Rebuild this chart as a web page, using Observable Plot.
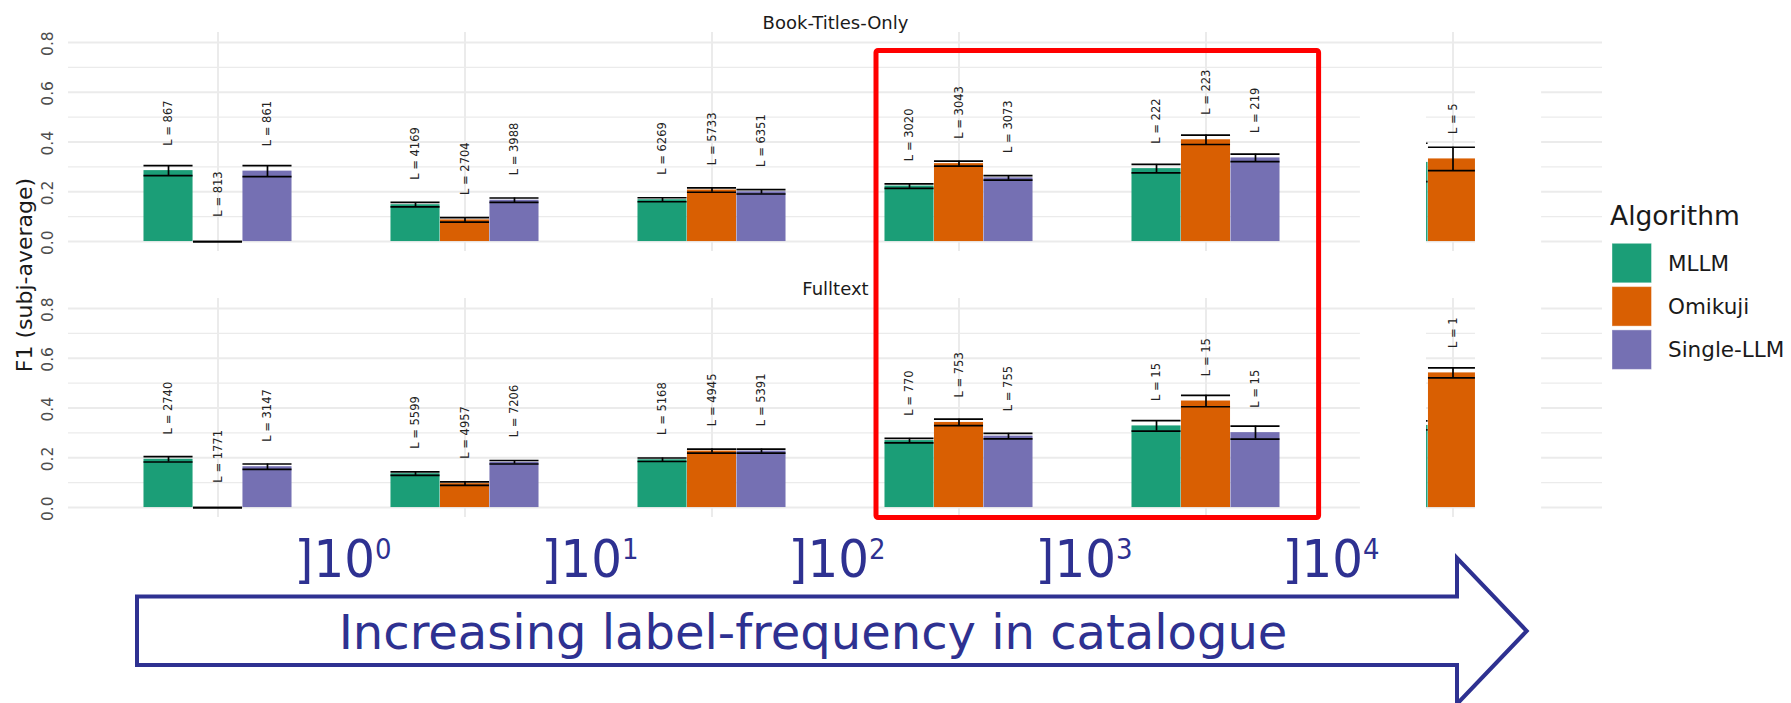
<!DOCTYPE html>
<html><head><meta charset="utf-8">
<script src="https://cdn.jsdelivr.net/npm/d3@7"></script>
<script src="https://cdn.jsdelivr.net/npm/@observablehq/plot@0.6"></script>
<style>
html,body{margin:0;padding:0;background:#fff;}
#wrap{position:relative;width:1791px;height:703px;overflow:hidden;font-family:"DejaVu Sans",sans-serif;}
#wrap svg{position:absolute;left:0;top:0;}
</style></head><body><div id="wrap"></div>
<script>
// ---------- data ----------
const panels = ["Book-Titles-Only", "Fulltext"];
const algorithms = ["MLLM", "Omikuji", "Single-LLM"];
const algoColors = ["#1B9E77", "#D95F02", "#7570B3"];
const groups = ["≤10^0", "]10^0,10^1]", "]10^1,10^2]", "]10^2,10^3]", "]10^3,10^4]", ">10^4"];
const boundaryExponents = ["0", "1", "2", "3", "4"];
const yMajorTicks = [0, 0.2, 0.4, 0.6, 0.8];
const yMinorTicks = [0.1, 0.3, 0.5, 0.7];
const yTitle = "F1 (subj-average)";
const legendTitle = "Algorithm";
const arrowText = "Increasing label-frequency in catalogue";

// Book-Titles-Only
const titlesMLLM = [0.285, 0.148, 0.168, 0.223, 0.293, 0.318];
const titlesMLLMErr = [0.020, 0.009, 0.008, 0.009, 0.017, 0.077];
const titlesMLLMCount = [867, 4169, 6269, 3020, 222, null];
const titlesOmikuji = [0, 0.087, 0.207, 0.313, 0.409, 0.332];
const titlesOmikujiErr = [0, 0.009, 0.009, 0.010, 0.019, 0.047];
const titlesOmikujiCount = [813, 2704, 5733, 3043, 223, 5];
const titlesSingle = [0.283, 0.166, 0.200, 0.256, 0.336, null];
const titlesSingleErr = [0.022, 0.009, 0.009, 0.009, 0.015, null];
const titlesSingleCount = [861, 3988, 6351, 3073, 219, null];
// Fulltext
const fullMLLM = [0.194, 0.136, 0.192, 0.269, 0.328, 0.330];
const fullMLLMErr = [0.011, 0.007, 0.007, 0.009, 0.021, 0.018];
const fullMLLMCount = [2740, 5599, 5168, 770, 15, null];
const fullOmikuji = [0, 0.096, 0.227, 0.342, 0.428, 0.541];
const fullOmikujiErr = [0, 0.007, 0.008, 0.013, 0.023, 0.020];
const fullOmikujiCount = [1771, 4957, 4945, 753, 15, 1];
const fullSingle = [0.164, 0.182, 0.227, 0.287, 0.301, null];
const fullSingleErr = [0.011, 0.007, 0.008, 0.011, 0.026, null];
const fullSingleCount = [3147, 7206, 5391, 755, 15, null];

// white cover patches over the last group (as in the source figure)
const coverTopMLLM = [0.55, 0.75];
const coverTopSingle = [0.65, 0.84];

// ---------- build tables ----------
const series = [
  [panels[0], "MLLM", titlesMLLM, titlesMLLMErr, titlesMLLMCount],
  [panels[0], "Omikuji", titlesOmikuji, titlesOmikujiErr, titlesOmikujiCount],
  [panels[0], "Single-LLM", titlesSingle, titlesSingleErr, titlesSingleCount],
  [panels[1], "MLLM", fullMLLM, fullMLLMErr, fullMLLMCount],
  [panels[1], "Omikuji", fullOmikuji, fullOmikujiErr, fullOmikujiCount],
  [panels[1], "Single-LLM", fullSingle, fullSingleErr, fullSingleCount]
];
const rows = series.flatMap(([panel, algo, m, e, n]) =>
  groups.map((group, i) => ({panel, algo, group, mean: m[i], err: e[i], n: n[i]}))
).filter(d => d.mean != null);

const lastGroup = groups[groups.length - 1];
const coverMLLM = panels.map((panel, i) => ({panel, group: lastGroup, top: coverTopMLLM[i]}));
const coverSingle = panels.map((panel, i) => ({panel, group: lastGroup, top: coverTopSingle[i]}));

// ---------- layout ----------
const W = 1791, H = 703;
const mL = 68, mR = 189, mT = 32, mB = 185;
const outerPad = 0.1;
const bw = (W - mL - mR) / (groups.length + 2 * outerPad);
const grid = "#ebebeb";
const ink = "#1a1a1a";

const algoMarks = algorithms.flatMap((a, ai) => {
  const k = ai - 1;
  const data = rows.filter(d => d.algo === a);
  const inL = (0.4 + 0.2 * k) * bw, inR = (0.4 - 0.2 * k) * bw;
  return [
    Plot.barY(data, {x: "group", y: "mean", fy: "panel", fill: "algo", insetLeft: inL, insetRight: inR}),
    Plot.ruleX(data, {x: "group", y1: d => d.mean - d.err, y2: d => d.mean + d.err, fy: "panel", dx: 0.2 * k * bw, stroke: "black", strokeWidth: 1.7}),
    Plot.tickY(data, {x: "group", y: d => d.mean - d.err, fy: "panel", insetLeft: inL, insetRight: inR, stroke: "black", strokeWidth: 1.7}),
    Plot.tickY(data, {x: "group", y: d => d.mean + d.err, fy: "panel", insetLeft: inL, insetRight: inR, stroke: "black", strokeWidth: 1.7}),
    Plot.text(data.filter(d => d.n != null), {x: "group", y: d => d.mean + 0.1, fy: "panel", text: d => `L = ${d.n}`,
      dx: 0.2 * k * bw, rotate: -90, textAnchor: "start", fontSize: 11.5, fill: "#222"})
  ];
});

const plot = Plot.plot({
  width: W, height: H,
  marginLeft: mL, marginRight: mR, marginTop: mT, marginBottom: mB,
  style: {fontFamily: "DejaVu Sans, sans-serif", background: "transparent", overflow: "visible"},
  x: {type: "band", domain: groups, paddingInner: 0, paddingOuter: outerPad, align: 0.5, axis: null},
  y: {domain: [-0.04, 0.84], axis: null},
  fy: {domain: panels, paddingInner: 0.1764, paddingOuter: 0, axis: null},
  color: {domain: algorithms, range: algoColors},
  marks: [
    Plot.ruleY(yMinorTicks, {y: d => d, stroke: grid, strokeWidth: 1.1}),
    Plot.ruleY(yMajorTicks, {y: d => d, stroke: grid, strokeWidth: 2}),
    Plot.ruleX(groups, {x: d => d, stroke: grid, strokeWidth: 2}),
    Plot.text(yMajorTicks, {y: d => d, text: d => d.toFixed(1), frameAnchor: "left", dx: -20, dy: 13.5,
      rotate: -90, fontSize: 15.5, fill: "#4d4d4d"}),
    Plot.text(panels, {fy: d => d, text: d => d, frameAnchor: "top", dy: -16.2, fontSize: 18, fill: ink}),
    ...algoMarks,
    Plot.barY(coverMLLM, {x: "group", y1: -0.04, y2: "top", fy: "panel", fill: "white",
      insetLeft: 0.2 * bw - 18.6, insetRight: 0.6 * bw + 1.5}),
    Plot.barY(coverSingle, {x: "group", y1: -0.04, y2: "top", fy: "panel", fill: "white",
      insetLeft: 0.6 * bw - 2.5, insetRight: 0.2 * bw - 14.6})
  ]
});
const wrap = document.getElementById("wrap");
wrap.appendChild(plot);

// ---------- overlay: axis title, legend, annotations ----------
const navy = "#2e3191";
const ov = d3.select(wrap).append("svg").attr("width", W).attr("height", H)
  .attr("font-family", "DejaVu Sans, sans-serif");

// y-axis title
ov.append("text").attr("transform", "translate(24,275) rotate(-90)")
  .attr("text-anchor", "middle").attr("dy", "0.35em").attr("font-size", 22).attr("fill", ink).text(yTitle);

// legend
const cs = plot.scale("color");
ov.append("text").attr("x", 1610).attr("y", 225).attr("font-size", 26.5).attr("fill", ink).text(legendTitle);
cs.domain.forEach((a, i) => {
  const top = 243.3 + i * 43.3;
  ov.append("rect").attr("x", 1612).attr("y", top).attr("width", 39.5).attr("height", 39.5)
    .attr("fill", cs.range[i]).attr("stroke", "#ffffff").attr("stroke-opacity", 0.4).attr("stroke-width", 1);
  ov.append("text").attr("x", 1668).attr("y", top + 19.75).attr("dy", "0.36em")
    .attr("font-size", 21.5).attr("fill", ink).text(a);
});

// red highlight box
ov.append("rect").attr("x", 876).attr("y", 50.5).attr("width", 1318.6 - 876).attr("height", 517.5 - 50.5)
  .attr("rx", 2).attr("fill", "none").attr("stroke", "#ff0000").attr("stroke-width", 5);

// exponent labels at the bin boundaries
let xs = null;
try { xs = plot.scale("x"); } catch (e) { xs = null; }
const bandStart = g => (xs && xs.apply) ? xs.apply(g) : mL + (outerPad + groups.indexOf(g)) * bw;
boundaryExponents.forEach((ex, i) => {
  const cx = bandStart(groups[i + 1]) + 2;
  const t = ov.append("text").attr("transform", `translate(${cx},577) scale(0.93,1)`).attr("text-anchor", "middle")
    .attr("font-size", 52).attr("fill", navy);
  t.append("tspan").text("]10");
  t.append("tspan").attr("dy", -18).attr("font-size", 28).text(ex);
});

// arrow
ov.append("path")
  .attr("d", "M137,596.5 L1457,596.5 L1457,558 L1526.7,631 L1457,704 L1457,665 L137,665 Z")
  .attr("fill", "white").attr("stroke", navy).attr("stroke-width", 4).attr("stroke-linejoin", "miter");
ov.append("text").attr("x", 338.7).attr("y", 649).attr("font-size", 48).attr("fill", navy).text(arrowText);
</script></body></html>
